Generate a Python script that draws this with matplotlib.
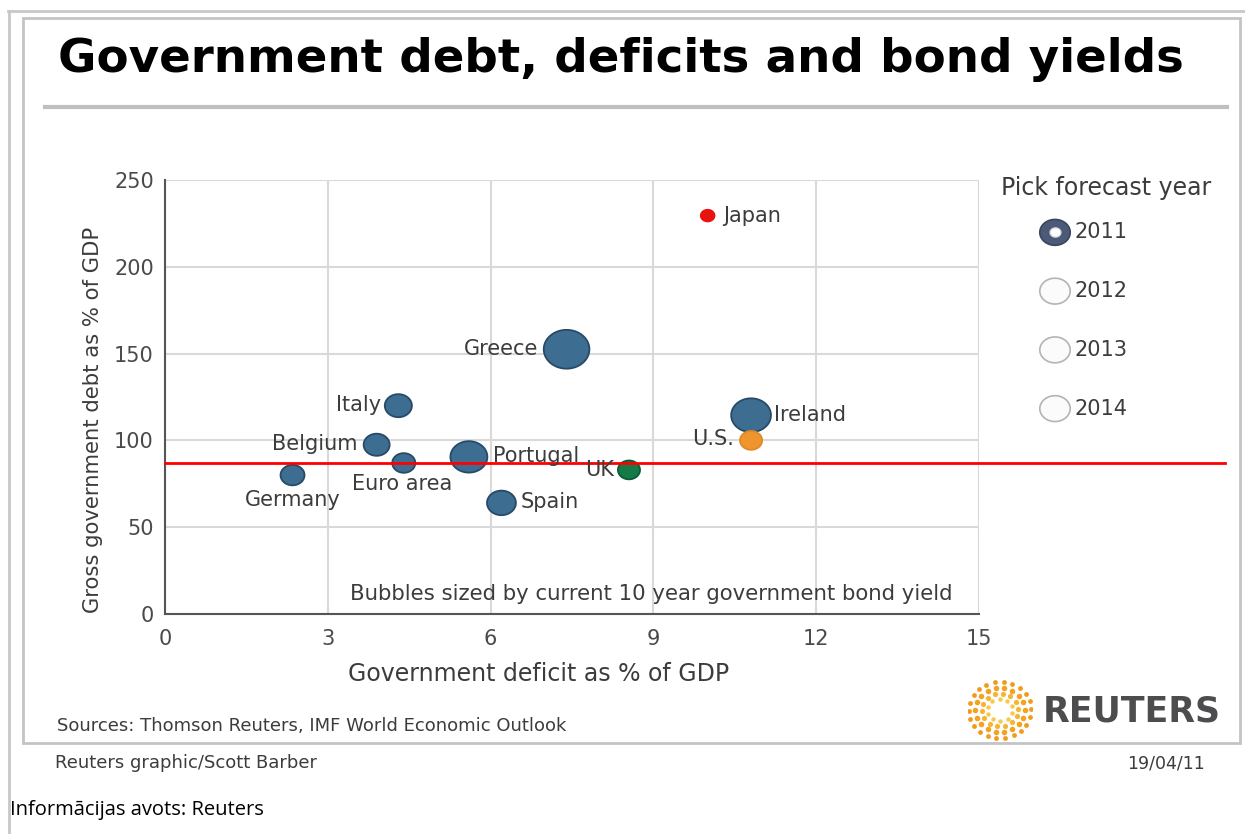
import numpy as np
import matplotlib
matplotlib.use("Agg")
import matplotlib.pyplot as plt
from matplotlib.path import Path
from matplotlib.patches import Rectangle
from matplotlib.lines import Line2D

# data (forecast year 2011)
countries = ["Japan", "Greece", "Italy", "Belgium", "Euro area", "Portugal",
             "Germany", "Spain", "UK", "Ireland", "U.S."]
deficit = [10.0, 7.4, 4.3, 3.9, 4.4, 5.6, 2.35, 6.2, 8.55, 10.8, 10.8]
debt = [229.5, 152.5, 120.0, 97.5, 87.0, 90.5, 80.0, 64.0, 83.0, 114.5, 100.0]
bond_yield = [1.3, 14.5, 5.1, 4.7, 3.7, 9.5, 4.0, 5.8, 3.4, 11.0, 3.4]
colors = ["#e8120f", "#3d6d91", "#3d6d91", "#3d6d91", "#3d6d91", "#3d6d91",
          "#3d6d91", "#3d6d91", "#137a48", "#3d6d91", "#f0952e"]
edges = ["#e8120f", "#284a66", "#284a66", "#284a66", "#284a66", "#284a66",
         "#284a66", "#284a66", "#0e5c36", "#284a66", "#e0892a"]
euro_avg_debt = 87.0
years = ["2011", "2012", "2013", "2014"]
picked = "2011"

# label placement: offset in pixels, horizontal alignment
label_pos = {
    "Japan": (15, 0, "left"), "Greece": (-28, 0, "right"),
    "Italy": (-17, 1, "right"), "Belgium": (-19, 1, "right"),
    "Euro area": (-2, -21, "center"), "Portugal": (24, 1, "left"),
    "Germany": (0, -25, "center"), "Spain": (19, 1, "left"),
    "UK": (-15, 0, "right"), "Ireland": (23, 0, "left"),
    "U.S.": (-17, 1, "right"),
}

W, H = 1245, 834
fig = plt.figure(figsize=(W / 100, H / 100), dpi=100)
fig.patch.set_facecolor("white")

def fx(px):
    return px / W

def fy(py):
    return 1 - py / H

# frames
fig.add_artist(Line2D([fx(8), 1], [fy(11), fy(11)], color="#c8c8c8", lw=2))
fig.add_artist(Line2D([fx(9), fx(9)], [fy(11), 0], color="#c8c8c8", lw=2))
fig.add_artist(Rectangle((fx(23), fy(743)), fx(1240 - 23), (743 - 18) / H,
                         fill=False, ec="#c4c4c4", lw=2))
fig.add_artist(Line2D([fx(45), fx(1227)], [fy(107), fy(107)], color="#c0c0c0", lw=3))

fig.text(fx(58), fy(60), "Government debt, deficits and bond yields",
         fontsize=33.7, fontweight="bold", color="black", va="center", ha="left")

# main chart
ax = fig.add_axes([fx(165), fy(614), fx(979 - 165), (614 - 180) / H])
ax.set_xlim(0, 15)
ax.set_ylim(0, 250)
ax.set_xticks([0, 3, 6, 9, 12, 15])
ax.set_yticks([0, 50, 100, 150, 200, 250])
ax.grid(True, color="#d9d9d9", lw=1.5)
ax.set_axisbelow(True)
for s in ["top", "right"]:
    ax.spines[s].set_visible(False)
for s in ["left", "bottom"]:
    ax.spines[s].set_color("#555555")
    ax.spines[s].set_linewidth(1.5)
ax.tick_params(length=0, labelsize=15, labelcolor="#4a4a4a")
ax.tick_params(axis="x", pad=11)
ax.tick_params(axis="y", pad=8)

# bubbles are slightly wider than tall in the original
t = np.linspace(0, 2 * np.pi, 60)
ell = Path(np.column_stack([np.cos(t), 0.85 * np.sin(t)]), closed=True)

sizes = [74.6 * v for v in bond_yield]
ax.scatter(deficit, debt, s=sizes, c=colors, edgecolors=edges, linewidths=1.3,
           marker=ell, zorder=3)

ax.axhline(euro_avg_debt, xmin=0, xmax=(1225 - 165) / (979 - 165), color="#ff0000",
           lw=2, clip_on=False, zorder=4)

for name, x, y in zip(countries, deficit, debt):
    dx, dy, ha = label_pos[name]
    ax.annotate(name, (x, y), xytext=(dx, dy), textcoords="offset pixels",
                ha=ha, va="center", fontsize=15, color="#3c3c3c", zorder=5)

ax.text(0.5 + (651 - 572) / 814, (614 - 594) / 434,
        "Bubbles sized by current 10 year government bond yield",
        transform=ax.transAxes, ha="center", va="center", fontsize=15.3, color="#3c3c3c")

fig.text(fx(539), fy(674), "Government deficit as % of GDP", ha="center", va="center",
         fontsize=17, color="#3c3c3c")
fig.text(fx(93), fy(420), "Gross government debt as % of GDP", ha="center", va="center",
         rotation=90, fontsize=15.2, color="#3c3c3c")

# forecast year picker
fig.text(fx(1106), fy(188), "Pick forecast year", ha="center", va="center",
         fontsize=17, color="#3c3c3c")
lax = fig.add_axes([fx(1030), fy(438), fx(200), 235 / H])
lax.set_xlim(0, 1)
lax.set_ylim(len(years) - 0.5, -0.5)
lax.axis("off")
yi = np.arange(len(years))
sel = [y == picked for y in years]
lax.scatter(np.full(len(years), 0.125), yi, s=480, marker=ell,
            c=["#4b5a77" if s else "#fbfbfb" for s in sel],
            edgecolors=["#3a465e" if s else "#b4b4b4" for s in sel], linewidths=1.2)
lax.scatter([0.125 for s in sel if s], [i for i, s in zip(yi, sel) if s],
            s=60, marker=ell, c="white", edgecolors="#dcdcdc")
for i, yr in zip(yi, years):
    lax.text(0.225, i, yr, ha="left", va="center", fontsize=15, color="#3c3c3c")

# footer
fig.text(fx(57), fy(726), "Sources: Thomson Reuters, IMF World Economic Outlook",
         ha="left", va="center", fontsize=13, color="#3c3c3c")
fig.text(fx(55), fy(763), "Reuters graphic/Scott Barber", ha="left", va="center",
         fontsize=13, color="#3c3c3c")
fig.text(fx(1205), fy(763), "19/04/11", ha="right", va="center", fontsize=12.5,
         color="#3c3c3c")
fig.text(fx(10), fy(810), "Informācijas avots: Reuters", ha="left", va="center",
         fontsize=14.5, color="black", family="Open Sans")

# Reuters logo: ring of dots plus word mark
lg = fig.add_axes([fx(968), fy(742), fx(64), 64 / H])
lg.set_xlim(-1, 1)
lg.set_ylim(-1, 1)
lg.axis("off")
for r, n, sz, col in [(0.35, 10, 10, "#f7c948"), (0.52, 14, 14, "#f5b431"),
                      (0.70, 18, 16, "#f3a321"), (0.88, 22, 12, "#f29a1c")]:
    a = np.linspace(0, 2 * np.pi, n, endpoint=False) + r
    lg.scatter(r * 1.1 * np.cos(a), r * np.sin(a), s=sz, c=col, lw=0)
fig.text(fx(1132), fy(711), "REUTERS", ha="center", va="center", fontsize=25,
         fontweight="bold", color="#4d4d4f")

fig.savefig("out.png", dpi=100, facecolor="white")
